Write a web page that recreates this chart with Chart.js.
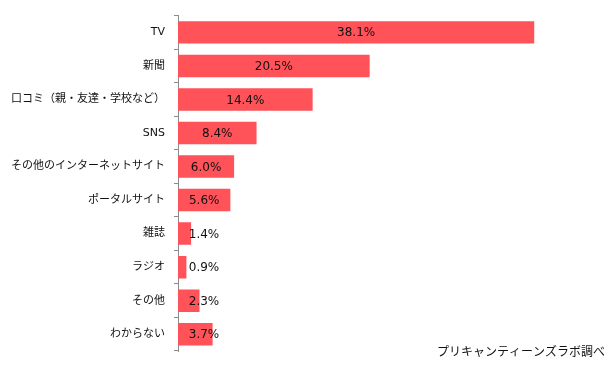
<!DOCTYPE html>
<html>
<head>
<meta charset="utf-8">
<script src="https://cdn.jsdelivr.net/npm/chart.js@4/dist/chart.umd.min.js"></script>
<style>
  html, body { margin: 0; padding: 0; background: #fff; }
  #wrap { width: 612px; height: 367px; }
</style>
</head>
<body>
<div id="wrap"><canvas id="mediaChart"></canvas></div>
<script>
const categories = ['TV', '新聞', '口コミ（親・友達・学校など）', 'SNS', 'その他のインターネットサイト',
  'ポータルサイト', '雑誌', 'ラジオ', 'その他', 'わからない'];
const shares = [38.1, 20.5, 14.4, 8.4, 6.0, 5.6, 1.4, 0.9, 2.3, 3.7];
const sourceNote = 'プリキャンティーンズラボ調べ';

// value labels centred in the bar, pushed right when the bar is too short
const barLabels = {
  id: 'barLabels',
  afterDatasetsDraw(chart) {
    const ctx = chart.ctx;
    const meta = chart.getDatasetMeta(0);
    const left = chart.chartArea.left;
    ctx.save();
    ctx.font = '12px "DejaVu Sans", Verdana, sans-serif';
    ctx.fillStyle = '#111';
    ctx.textAlign = 'center';
    ctx.textBaseline = 'middle';
    meta.data.forEach((bar, i) => {
      const cx = Math.max((bar.base + bar.x) / 2, left + 26);
      ctx.fillText(shares[i].toFixed(1) + '%', cx, bar.y + 1);
    });
    // source note, bottom right
    ctx.font = '12px "Noto Sans CJK JP", sans-serif';
    ctx.textAlign = 'right';
    ctx.fillStyle = '#111';
    ctx.fillText(sourceNote, 605, 351);
    ctx.restore();
  }
};

new Chart(document.getElementById('mediaChart'), {
  type: 'bar',
  data: {
    labels: categories,
    datasets: [{
      data: shares,
      backgroundColor: '#ff5259',
      borderWidth: 0,
      categoryPercentage: 1,
      barPercentage: 0.67
    }]
  },
  options: {
    indexAxis: 'y',
    responsive: true,
    maintainAspectRatio: false,
    animation: false,
    layout: { padding: { top: 14, bottom: 16, right: 60, left: 0 } },
    plugins: {
      legend: { display: false },
      tooltip: { enabled: false }
    },
    scales: {
      x: {
        display: false,
        min: 0,
        max: 40
      },
      y: {
        afterFit(scale) { scale.width = 178; },
        border: { display: true, color: '#8c8c8c', width: 1 },
        grid: {
          drawOnChartArea: false,
          drawTicks: true,
          tickLength: 4,
          color: '#8c8c8c',
          offset: true
        },
        ticks: {
          color: '#111',
          padding: 9,
          font: { family: '"DejaVu Sans", "Noto Sans CJK JP", sans-serif', size: 11 }
        }
      }
    }
  },
  plugins: [barLabels]
});
</script>
</body>
</html>
